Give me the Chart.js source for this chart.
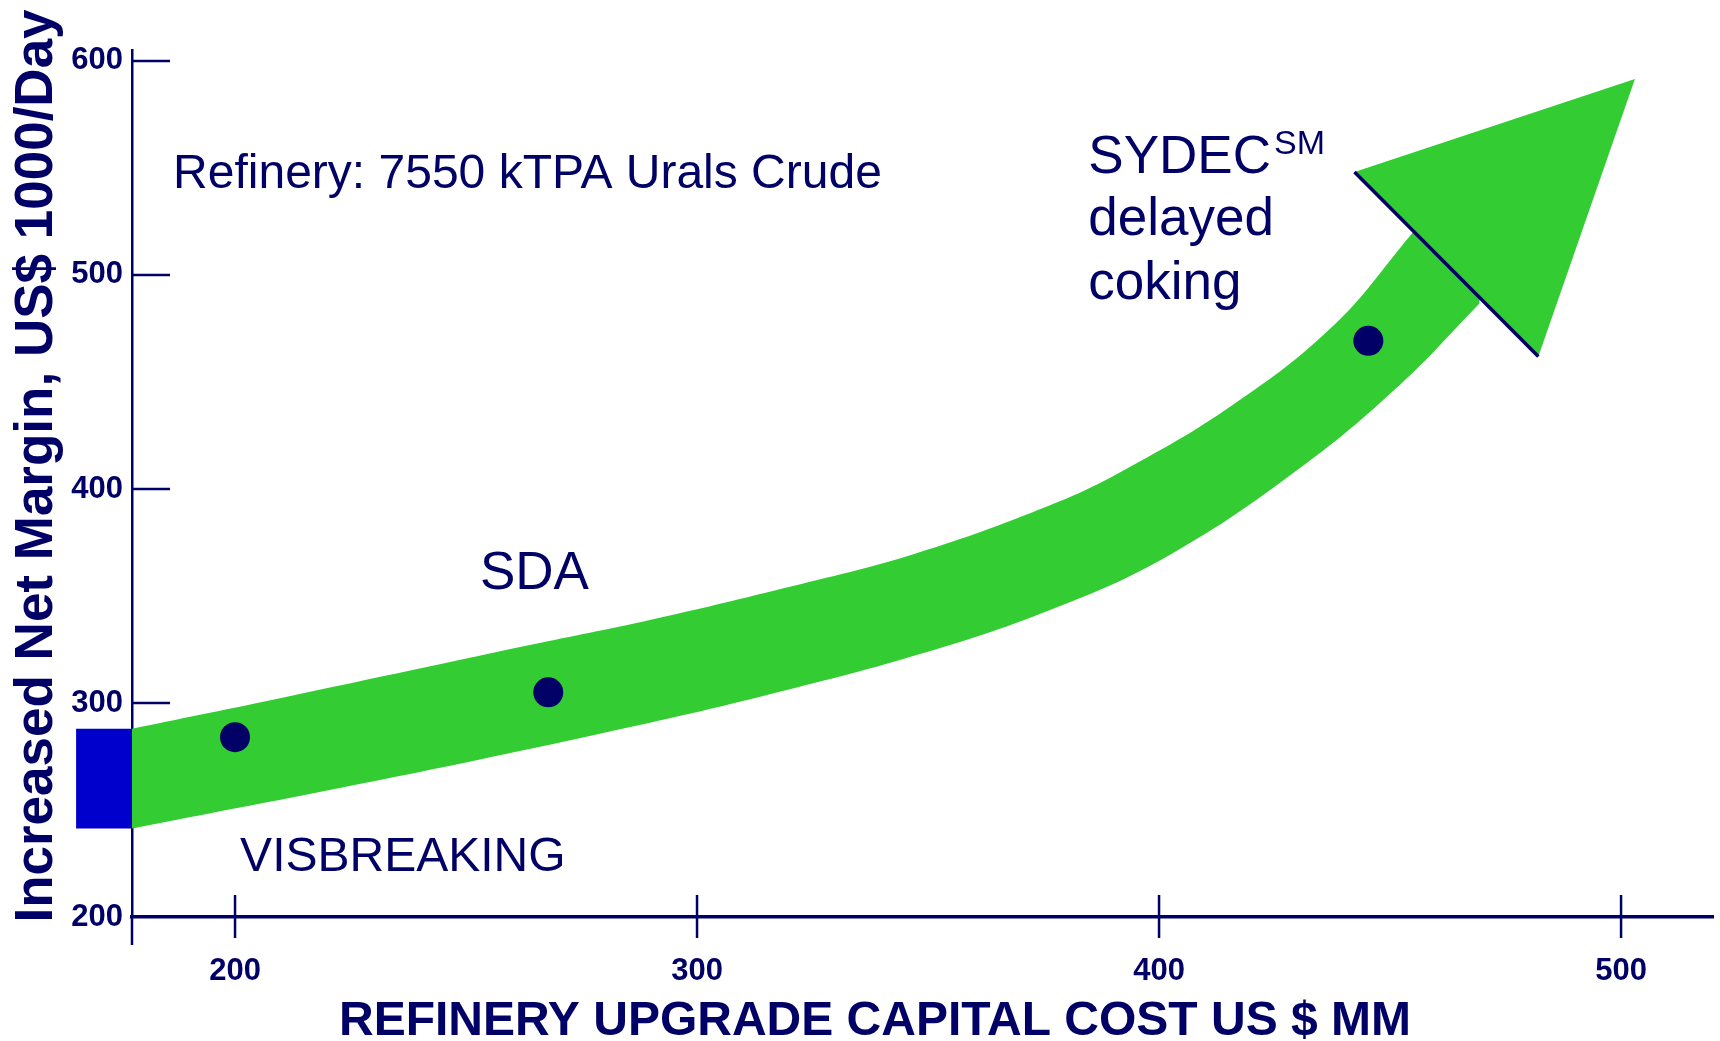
<!DOCTYPE html>
<html>
<head>
<meta charset="utf-8">
<title>Refinery upgrade capital cost vs increased net margin</title>
<script src="https://cdn.jsdelivr.net/npm/chart.js@4.4.1/dist/chart.umd.min.js"></script>
<style>
  html, body { margin: 0; padding: 0; background: #fff; overflow: hidden; }
  #wrap { width: 1720px; height: 1041px; position: relative; }
  #wrap canvas { display: block; }
</style>
</head>
<body>
<div id="wrap"><canvas id="marginChart"></canvas></div>
<script>
'use strict';

// ---- axes ----
const xTicks = [200, 300, 400, 500];
const yTicks = [200, 300, 400, 500, 600];
const xRange = [177.7, 519.9];
const yRange = [200, 605.1];

// ---- upgrade options (dots) ----
const optionCost   = [200, 267.8, 445.3];
const optionMargin = [284.0, 305.0, 469.2];

// ---- green band, upper and lower edge ----
const bandTopX = [177.7, 206.1, 263.8, 289.8, 318.7, 347.5, 376.4, 392.2, 416.0, 437.7, 454.3, 469.4];
const bandTopY = [288.0, 300.6, 327.1, 338.8, 353.6, 370.0, 392.4, 408.5, 439.3, 476.2, 518.2, 557.9];
const bandLowX = [177.7, 235.0, 289.8, 315.1, 347.5, 376.4, 402.3, 430.5, 452.1, 469.4];
const bandLowY = [241.3, 265.6, 290.8, 303.7, 322.4, 343.5, 369.2, 409.8, 448.6, 486.8];

// ---- arrow head: base left, tip, base right ----
const headX = [442.3, 503.0, 482.1];
const headY = [548.1, 591.6, 461.9];

// ---- visbreaking block (before the y axis) ----
const blockX = [165.6, 177.7];
const blockY = [241.3, 288.0];

const NAVY  = '#000066';
const GREEN = '#33CC33';
const BLUE  = '#0000CC';
const FONT  = "'Liberation Sans', Arial, sans-serif";
const NONE  = 'rgba(0,0,0,0)';

const pts = (xs, ys) => xs.map((x, i) => ({ x, y: ys[i] }));

// text, ticks and axis titles drawn on top of the plot
const decorations = {
  id: 'decorations',
  afterDraw(chart) {
    const { ctx, scales: { x, y } } = chart;
    const axisX = x.getPixelForValue(xRange[0]);
    const axisY = y.getPixelForValue(yRange[0]);
    ctx.save();

    // tick marks: y inside the plot, x across the axis
    ctx.strokeStyle = NAVY;
    ctx.lineWidth = 2.5;
    ctx.beginPath();
    yTicks.slice(1).forEach(v => {
      const py = y.getPixelForValue(v);
      ctx.moveTo(axisX, py); ctx.lineTo(axisX + 38, py);
    });
    xTicks.forEach(v => {
      const px = x.getPixelForValue(v);
      ctx.moveTo(px, axisY - 22); ctx.lineTo(px, axisY + 21);
    });
    ctx.moveTo(axisX, axisY); ctx.lineTo(axisX, axisY + 28);
    ctx.stroke();

    ctx.fillStyle = NAVY;
    ctx.textBaseline = 'alphabetic';

    // axis titles
    ctx.font = 'bold 48px ' + FONT;
    ctx.textAlign = 'center';
    ctx.fillText('REFINERY UPGRADE CAPITAL COST US $ MM', 875, 1035);
    ctx.save();
    ctx.translate(52, 466);
    ctx.rotate(-Math.PI / 2);
    ctx.font = 'bold 53px ' + FONT;
    ctx.fillText('Increased Net Margin, US$ 1000/Day', 0, 0);
    ctx.restore();

    // plot annotations
    ctx.textAlign = 'left';
    const put = (txt, vx, vy, size) => {
      ctx.font = size + 'px ' + FONT;
      const px = x.getPixelForValue(vx), py = y.getPixelForValue(vy);
      ctx.fillText(txt, px, py);
      return px + ctx.measureText(txt).width;
    };
    put('Refinery: 7550 kTPA Urals Crude', 186.6, 540.7, 48);
    put('SDA', 253.0, 353.3, 53);
    put('VISBREAKING', 201.1, 221.5, 48);
    const end = put('SYDEC', 384.7, 547.7, 53);
    ctx.font = '34px ' + FONT;
    ctx.fillText('SM', end + 3, y.getPixelForValue(547.7) - 19);
    put('delayed', 384.7, 518.7, 53);
    put('coking', 384.7, 488.7, 53);

    ctx.restore();
  }
};

new Chart(document.getElementById('marginChart'), {
  type: 'line',
  data: {
    datasets: [
      {
        label: 'Options',
        data: pts(optionCost, optionMargin),
        showLine: false,
        pointRadius: 15,
        pointHoverRadius: 15,
        pointBackgroundColor: NAVY,
        pointBorderWidth: 0,
      },
      {
        label: 'Head base',
        data: pts([headX[0], headX[2]], [headY[0], headY[2]]),
        borderColor: NAVY,
        borderWidth: 3.5,
        pointRadius: 0,
        tension: 0,
      },
      {
        label: 'Arrow head',
        data: pts(headX, headY),
        borderColor: NONE,
        borderWidth: 0,
        backgroundColor: GREEN,
        fill: 'shape',
        pointRadius: 0,
        tension: 0,
      },
      {
        label: 'Band top',
        data: pts(bandTopX, bandTopY),
        borderColor: NONE,
        borderWidth: 0,
        backgroundColor: GREEN,
        fill: '+1',
        pointRadius: 0,
        tension: 0.4,
      },
      {
        label: 'Band bottom',
        data: pts(bandLowX, bandLowY),
        borderColor: NONE,
        borderWidth: 0,
        pointRadius: 0,
        fill: false,
        tension: 0.4,
      },
      {
        type: 'bar',
        label: 'Visbreaking',
        data: [{ x: (blockX[0] + blockX[1]) / 2, y: blockY }],
        backgroundColor: BLUE,
        borderWidth: 0,
        categoryPercentage: 1,
        barPercentage: (blockX[1] - blockX[0]) / (xTicks[1] - xTicks[0]),
        grouped: false,
        clip: false,
      },
    ]
  },
  options: {
    responsive: true,
    maintainAspectRatio: false,
    animation: false,
    events: [],
    layout: { autoPadding: false, padding: { top: 50, right: 7, left: 0, bottom: 0 } },
    plugins: { legend: { display: false }, tooltip: { enabled: false } },
    scales: {
      x: {
        type: 'linear',
        min: xRange[0], max: xRange[1],
        offset: false,
        grid: { display: false, drawTicks: false },
        border: { color: NAVY, width: 3.5 },
        afterBuildTicks: axis => { axis.ticks = xTicks.map(v => ({ value: v })); },
        afterFit: axis => { axis.height = 124; axis.paddingLeft = 0; axis.paddingRight = 0; },
        ticks: { color: NAVY, padding: 36, maxRotation: 0, font: { family: FONT, size: 31, weight: 'bold' } },
      },
      y: {
        type: 'linear',
        min: yRange[0], max: yRange[1],
        grid: { display: false, drawTicks: false },
        border: { color: NAVY, width: 2.5 },
        afterBuildTicks: axis => { axis.ticks = yTicks.map(v => ({ value: v })); },
        afterFit: axis => { axis.width = 132; axis.paddingTop = 0; axis.paddingBottom = 0; },
        ticks: { color: NAVY, padding: 9, font: { family: FONT, size: 31, weight: 'bold' } },
      },
    }
  },
  plugins: [decorations]
});
</script>
</body>
</html>
